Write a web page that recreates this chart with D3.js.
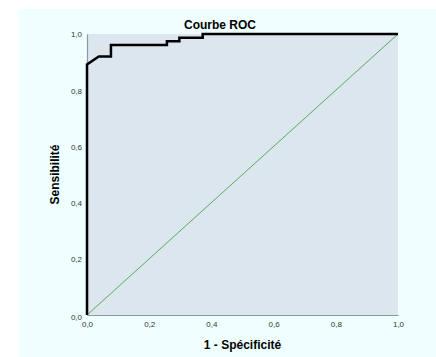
<!DOCTYPE html>
<html><head><meta charset="utf-8">
<script src="https://cdn.jsdelivr.net/npm/d3@7"></script>
<style>body{margin:0;background:#fff;} svg{display:block;font-family:"Liberation Sans",Arial,sans-serif;}</style>
</head><body>
<script>
// ROC curve points (1 - specificity, sensitivity)
const fpr = [0, 0, 0.038, 0.077, 0.077, 0.257, 0.257, 0.297, 0.297, 0.372, 0.372, 1.0];
const tpr = [0, 0.892, 0.920, 0.920, 0.961, 0.961, 0.974, 0.974, 0.987, 0.987, 1.0, 1.0];
const refLine = [[0, 0], [1, 1]];
const ticks = [0, 0.2, 0.4, 0.6, 0.8, 1.0];
const tickLabels = ["0,0", "0,2", "0,4", "0,6", "0,8", "1,0"];
const title = "Courbe ROC";
const xTitle = "1 - Spécificité";
const yTitle = "Sensibilité";

const W = 436, H = 357;
const svg = d3.select("body").append("svg").attr("width", W).attr("height", H);
svg.append("rect").attr("x", 19).attr("y", 9).attr("width", W - 19).attr("height", H - 9).attr("fill", "#efffff");

const m = {l: 87, r: 398, t: 34, b: 315};
const x = d3.scaleLinear().domain([0, 1]).range([m.l, m.r]);
const y = d3.scaleLinear().domain([0, 1]).range([m.b, m.t]);

svg.append("rect").attr("x", m.l).attr("y", m.t).attr("width", m.r - m.l).attr("height", m.b - m.t).attr("fill", "#dbe6ee");

// axes
const xAxis = d3.axisBottom(x).tickValues(ticks).tickFormat((d, i) => tickLabels[i]).tickSize(0).tickPadding(6);
const yAxis = d3.axisLeft(y).tickValues(ticks).tickFormat((d, i) => tickLabels[i]).tickSize(0).tickPadding(5);
const gx = svg.append("g").attr("transform", `translate(0,${m.b})`).call(xAxis);
const gy = svg.append("g").attr("transform", `translate(${m.l},0)`).call(yAxis);
[gx, gy].forEach(g => {
  g.select(".domain").attr("stroke", "#8a97a6").attr("stroke-width", 1.2);
  g.selectAll("text").attr("font-size", 8).attr("fill", "#333").attr("font-family", "Liberation Sans, Arial, sans-serif");
});
gy.selectAll("text").attr("dy", "0.35em");
gy.selectAll(".tick").filter(d => d === 0).select("text").attr("dy", "0.6em");
gx.selectAll("text").attr("dy", "0.71em");

// reference diagonal
svg.append("path").datum(refLine)
  .attr("d", d3.line().x(d => x(d[0])).y(d => y(d[1])))
  .attr("fill", "none").attr("stroke", "#5aab5a").attr("stroke-width", 1);

// ROC curve
const pts = fpr.map((f, i) => [f, tpr[i]]);
svg.append("path").datum(pts)
  .attr("d", d3.line().x(d => x(d[0])).y(d => y(d[1])))
  .attr("fill", "none").attr("stroke", "#000").attr("stroke-width", 2.5).attr("stroke-linejoin", "miter");

// titles
svg.append("text").attr("x", 220).attr("y", 29).attr("text-anchor", "middle")
  .attr("font-size", 12).attr("font-weight", "bold").attr("fill", "#000").text(title);
svg.append("text").attr("x", (m.l + m.r) / 2).attr("y", 349).attr("text-anchor", "middle")
  .attr("font-size", 12).attr("font-weight", "bold").attr("fill", "#000").text(xTitle);
svg.append("text").attr("transform", `translate(59,${(m.t + m.b) / 2}) rotate(-90)`).attr("text-anchor", "middle")
  .attr("font-size", 12).attr("font-weight", "bold").attr("fill", "#000").text(yTitle);
</script>
</body></html>
